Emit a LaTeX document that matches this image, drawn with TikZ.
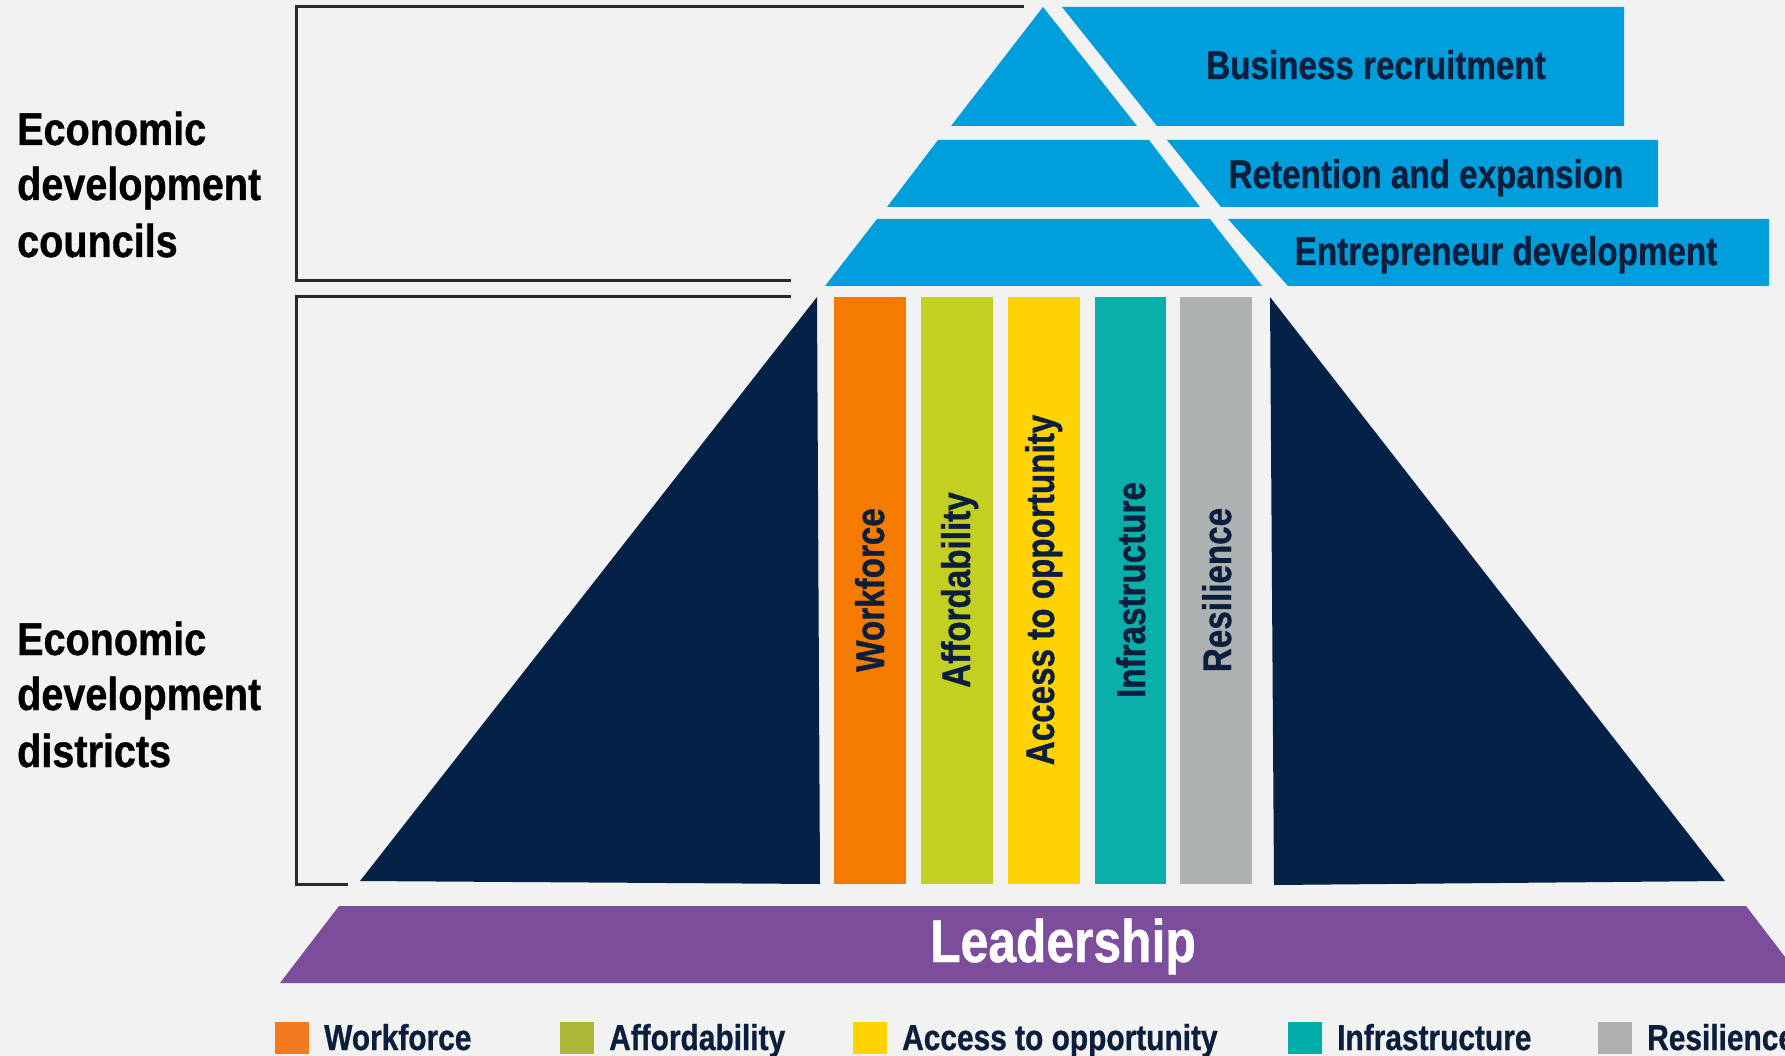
\documentclass[tikz,border=0pt]{standalone}
\usepackage{fontspec}
\newfontfamily\cond[FakeStretch=0.83,FakeBold=0.8]{Liberation Sans Bold}
\newfontfamily\condl[FakeStretch=0.86,FakeBold=0.8]{Liberation Sans Bold}
\definecolor{bg}{HTML}{F2F2F2}
\definecolor{navy}{HTML}{042248}
\definecolor{txtnavy}{HTML}{0B1F3D}
\definecolor{bandblue}{HTML}{009FDC}
\definecolor{orangeP}{HTML}{F47B00}
\definecolor{greenP}{HTML}{C3CF22}
\definecolor{yellowP}{HTML}{FFD200}
\definecolor{tealP}{HTML}{08AFAB}
\definecolor{grayP}{HTML}{AEB1B1}
\definecolor{orangeL}{HTML}{F47A20}
\definecolor{greenL}{HTML}{AFB836}
\definecolor{yellowL}{HTML}{FFD200}
\definecolor{tealL}{HTML}{00ADA8}
\definecolor{grayL}{HTML}{AEB0B0}
\definecolor{purpleL}{HTML}{7B4D9B}
\definecolor{bracket}{HTML}{2A2A2A}
\begin{document}
\begin{tikzpicture}[x=1pt,y=-1pt,
  lbl/.style={font=\condl\fontsize{46}{50}\selectfont, text=black, anchor=base west, inner sep=0pt},
  bandtxt/.style={font=\cond\fontsize{40}{44}\selectfont, text=txtnavy, anchor=base, inner sep=0pt},
  piltxt/.style={font=\cond\fontsize{40}{44}\selectfont, text=txtnavy, rotate=90, anchor=base, inner sep=0pt},
  legtxt/.style={font=\cond\fontsize{36}{40}\selectfont, text=txtnavy, anchor=base west, inner sep=0pt},
  brk/.style={draw=bracket, line width=3pt},
]
\clip (0,0) rectangle (1785,1056);
\fill[bg] (0,0) rectangle (1785,1056);

% brackets
\draw[brk] (1024,7) -- (296,7) -- (296,281) -- (791,281);
\draw[brk] (791,297) -- (296,297) -- (296,884) -- (348,884);

% pyramid top (blue)
\fill[bandblue] (1043,7) -- (1137,126) -- (951,126) -- cycle;
\fill[bandblue] (938,140) -- (1149,140) -- (1200,207) -- (887,207) -- cycle;
\fill[bandblue] (877,219) -- (1210,219) -- (1262,286) -- (825,286) -- cycle;
% side bands
\fill[bandblue] (1062,7) -- (1624,7) -- (1624,126) -- (1157,126) -- cycle;
\fill[bandblue] (1167,140) -- (1658,140) -- (1658,207) -- (1221,207) -- cycle;
\fill[bandblue] (1228,219) -- (1769,219) -- (1769,286) -- (1288,286) -- cycle;

% dark sides
\fill[navy] (817,297) -- (820,884) -- (360,881) -- cycle;
\fill[navy] (1270,297) -- (1725,881) -- (1274,885) -- cycle;

% pillars
\fill[orangeP] (834,297) rectangle (906,884);
\fill[greenP] (921,297) rectangle (993,884);
\fill[yellowP] (1008,297) rectangle (1080,884);
\fill[tealP] (1095,297) rectangle (1166,884);
\fill[grayP] (1180,297) rectangle (1252,884);

% leadership
\fill[purpleL] (339,906) -- (1746,906) -- (1805,983) -- (280,983) -- cycle;

% texts
\node[lbl] (c1) at (17,145) {Economic};
\node[lbl] (c2) at (17,200) {development};
\node[lbl] (c3) at (17,257) {councils};
\node[lbl] (d1) at (17,655) {Economic};
\node[lbl] (d2) at (17,710) {development};
\node[lbl] (d3) at (17,767) {districts};

\node[bandtxt] (br) at (1376,79) {Business recruitment};
\node[bandtxt] (re) at (1426,188) {Retention and expansion};
\node[bandtxt] (ed) at (1506,265) {Entrepreneur development};

\node[piltxt] (pw) at (884,590) {Workforce};
\node[piltxt] (pa) at (970,590) {Affordability};
\node[piltxt] (po) at (1054,590) {Access to opportunity};
\node[piltxt] (pi) at (1145,590) {Infrastructure};
\node[piltxt] (pr) at (1231,590) {Resilience};

\node[font=\cond\fontsize{60}{64}\selectfont, text=white, anchor=base, inner sep=0pt] (lead) at (1063,962) {Leadership};

% legend
\fill[orangeL] (275,1022) rectangle (309,1054);
\node[legtxt] (lw) at (324,1050) {Workforce};
\fill[greenL] (560,1022) rectangle (594,1054);
\node[legtxt] (la) at (609,1050) {Affordability};
\fill[yellowL] (853,1022) rectangle (887,1054);
\node[legtxt] (lo) at (902,1050) {Access to opportunity};
\fill[tealL] (1288,1022) rectangle (1322,1054);
\node[legtxt] (li) at (1337,1050) {Infrastructure};
\fill[grayL] (1598,1022) rectangle (1632,1054);
\node[legtxt] (lr) at (1647,1050) {Resilience};
\end{tikzpicture}
\end{document}
